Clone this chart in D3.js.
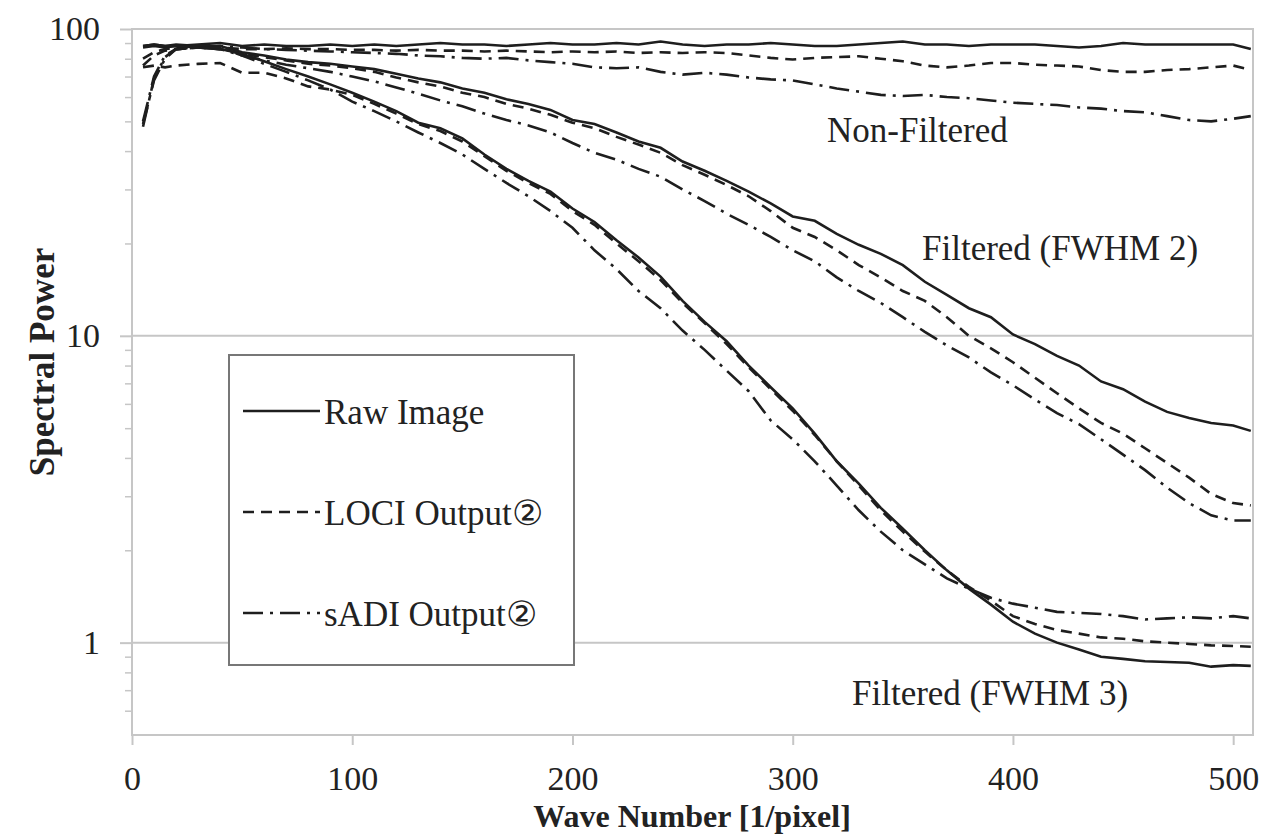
<!DOCTYPE html>
<html>
<head>
<meta charset="utf-8">
<script src="https://cdn.jsdelivr.net/npm/d3@7"></script>
<style>
  body { margin: 0; background: #fff; }
  text { font-family: "Liberation Serif", "Times New Roman", serif; fill: #222; }
</style>
</head>
<body>
<div id="chart"></div>
<script>
// wave numbers shared by every curve
const waveNumbers = [5, 10, 15, 20, 30, 40, 50, 60, 70, 80, 90, 100,
  110, 120, 130, 140, 150, 160, 170, 180, 190, 200,
  210, 220, 230, 240, 250, 260, 270, 280, 290, 300,
  310, 320, 330, 340, 350, 360, 370, 380, 390, 400,
  410, 420, 430, 440, 450, 460, 470, 480, 490, 500, 508];

// Non-Filtered
const rawNonFiltered = [87, 88, 87, 88, 89, 90, 88, 89, 88, 88, 89, 88,
  89, 88, 89, 90, 89, 89, 88, 89, 90, 89,
  89, 90, 89, 91, 89, 88, 89, 89, 90, 89,
  88, 88, 89, 90, 91, 89, 89, 88, 89, 89,
  89, 88, 87, 88, 90, 89, 89, 89, 89, 89, 86];
const lociNonFiltered = [76, 82, 85, 86, 87, 87, 86, 86, 86.5, 86, 86, 85.5,
  85.5, 85, 85.5, 85, 85, 84.5, 85, 84.5, 84, 84.5,
  84, 84.5, 83.5, 84, 83.5, 84, 83.5, 82, 80.5, 79.5,
  80.5, 81, 81.5, 80, 78.5, 76, 75, 76, 77.5, 77.5,
  76.5, 76, 75.5, 73.5, 72.5, 72.5, 73.5, 74, 75, 76, 73.5];
const sadiNonFiltered = [49, 68, 80, 86, 87, 88, 87, 86, 85.5, 85, 84.5, 84,
  83.5, 83, 82, 81.5, 80.5, 80, 80.5, 79, 78, 77,
  75, 74.5, 75, 72.5, 71, 72, 71, 69.5, 68.5, 68,
  66, 64, 62.5, 61, 60.5, 61, 60, 59.5, 58.5, 57.5,
  57, 56.5, 55.5, 55, 54, 53.5, 52, 50.5, 50, 51, 52];

// Filtered (FWHM 2)
const rawFwhm2 = [88, 89, 88, 89, 88, 88, 84, 82, 79.5, 78, 77, 75.5,
  74, 71.5, 69, 67, 64, 62, 59, 57, 54.5, 50.5,
  49, 46, 43, 41, 37, 34.5, 32, 29.5, 27, 24.5,
  23.7, 21.5, 19.8, 18.5, 17, 15, 13.6, 12.3, 11.5, 10.1,
  9.4, 8.6, 8.0, 7.1, 6.7, 6.1, 5.65, 5.4, 5.2, 5.1, 4.9];
const lociFwhm2 = [80, 84, 86, 87, 87, 86, 83, 81, 79, 77, 76, 74.5,
  72.5, 69.5, 67, 65, 62, 60, 57, 55, 52.5, 49.5,
  47.5, 44.5, 42, 39.5, 36, 33.5, 31, 28.5, 25.5, 22.5,
  21, 19, 17, 15.5, 14, 13, 11.5, 10.0, 9.1, 8.2,
  7.3, 6.5, 5.8, 5.2, 4.8, 4.3, 3.85, 3.45, 3.05, 2.85, 2.8];
const sadiFwhm2 = [50, 70, 82, 86, 87, 86, 82, 79, 76.5, 74.5, 72.5, 70,
  67.5, 64.5, 61.5, 58.5, 56, 53, 50.5, 48.5, 46, 42.5,
  39.5, 37.5, 35, 33, 30, 27.5, 25, 23, 21, 19,
  17.5, 15.5, 14, 12.8, 11.5, 10.3, 9.3, 8.5, 7.6, 6.9,
  6.2, 5.6, 5.15, 4.6, 4.1, 3.65, 3.2, 2.85, 2.6, 2.5, 2.5];

// Filtered (FWHM 3)
const rawFwhm3 = [88, 89, 88, 88, 87, 86, 83, 78.5, 74, 70, 66, 62,
  58, 54, 49.5, 47.5, 44, 39, 35, 32, 29.5, 26,
  23.5, 20.5, 18, 15.6, 13, 11.1, 9.6, 8.0, 6.8, 5.8,
  4.8, 3.9, 3.3, 2.75, 2.35, 2.0, 1.72, 1.5, 1.33, 1.17,
  1.07, 1.0, 0.95, 0.9, 0.885, 0.87, 0.865, 0.86, 0.835, 0.845, 0.84];
const lociFwhm3 = [75, 76, 75, 76, 77, 77.5, 72, 72, 69, 65, 63.5, 61,
  57, 53, 49, 46.5, 43, 38.5, 34.5, 31.5, 29, 25.5,
  23, 20, 17.5, 15.2, 12.8, 11, 9.4, 7.9, 6.7, 5.7,
  4.75, 3.9, 3.25, 2.7, 2.3, 1.98, 1.72, 1.52, 1.37, 1.22,
  1.15, 1.1, 1.07, 1.04, 1.03, 1.01, 1.0, 0.99, 0.98, 0.975, 0.97];
const sadiFwhm3 = [48, 69, 81, 86, 87, 87, 82, 77, 72.5, 68, 63.5, 58,
  54, 50, 46, 42.5, 39, 35, 31.5, 28.5, 25.5, 22.5,
  19, 16.5, 14, 12.3, 10.4, 9.0, 7.7, 6.6, 5.3, 4.6,
  3.9, 3.25, 2.7, 2.3, 2.0, 1.8, 1.62, 1.5, 1.4, 1.34,
  1.3, 1.26, 1.25, 1.24, 1.22, 1.19, 1.2, 1.21, 1.2, 1.22, 1.2];

const xTicks = [0, 100, 200, 300, 400, 500];
const yTicks = [1, 10, 100];
const legendLabels = ["Raw Image", "LOCI Output②", "sADI Output②"];
const groupLabels = ["Non-Filtered", "Filtered (FWHM 2)", "Filtered (FWHM 3)"];

const dashes = { raw: null, loci: "11,7", sadi: "20,7,3,7" };

const series = [
  { kind: "raw", values: rawNonFiltered },
  { kind: "loci", values: lociNonFiltered },
  { kind: "sadi", values: sadiNonFiltered },
  { kind: "raw", values: rawFwhm2 },
  { kind: "loci", values: lociFwhm2 },
  { kind: "sadi", values: sadiFwhm2 },
  { kind: "raw", values: rawFwhm3 },
  { kind: "loci", values: lociFwhm3 },
  { kind: "sadi", values: sadiFwhm3 }
];

const width = 1271, height = 837;
const plotLeft = 132, plotRight = 1253, plotTop = 29, plotBottom = 735;
const gridColor = "#c6c6c6";

const svg = d3.select("#chart").append("svg")
  .attr("width", width).attr("height", height);

const x = d3.scaleLinear().domain([0, 509]).range([plotLeft, plotRight]);
const y = d3.scaleLog().domain([0.5, 100]).range([plotBottom, plotTop]);

// gridlines
svg.append("g").selectAll("line")
  .data(yTicks)
  .enter().append("line")
  .attr("x1", plotLeft).attr("x2", plotRight)
  .attr("y1", d => y(d)).attr("y2", d => y(d))
  .attr("stroke", gridColor).attr("stroke-width", 2);

// plot frame
svg.append("rect")
  .attr("x", plotLeft).attr("y", plotTop)
  .attr("width", plotRight - plotLeft).attr("height", plotBottom - plotTop)
  .attr("fill", "none").attr("stroke", gridColor).attr("stroke-width", 2);

// x axis
const xAxis = svg.append("g")
  .attr("transform", `translate(0, ${plotBottom})`)
  .call(d3.axisBottom(x).tickValues(xTicks).tickSize(10).tickPadding(21).tickFormat(d3.format("d")));
xAxis.select(".domain").remove();
xAxis.selectAll("line").attr("stroke", gridColor).attr("stroke-width", 2);
xAxis.selectAll("text").style("font-size", "34px").style("font-family", "Liberation Serif").attr("fill", "#222");

// y axis, major ticks with labels
const yAxis = svg.append("g")
  .attr("transform", `translate(${plotLeft}, 0)`)
  .call(d3.axisLeft(y).tickValues(yTicks).tickSize(12).tickPadding(20).tickFormat(d3.format("d")));
yAxis.select(".domain").remove();
yAxis.selectAll("line").attr("stroke", gridColor).attr("stroke-width", 2);
yAxis.selectAll("text").style("font-size", "34px").style("font-family", "Liberation Serif").attr("fill", "#222");

// y axis, minor ticks
const minorTicks = [0.6, 0.7, 0.8, 0.9, 2, 3, 4, 5, 6, 7, 8, 9, 20, 30, 40, 50, 60, 70, 80, 90];
const yMinor = svg.append("g")
  .attr("transform", `translate(${plotLeft}, 0)`)
  .call(d3.axisLeft(y).tickValues(minorTicks).tickSize(7).tickFormat(""));
yMinor.select(".domain").remove();
yMinor.selectAll("line").attr("stroke", gridColor).attr("stroke-width", 1.5);

// curves
const line = d3.line()
  .x((d, i) => x(waveNumbers[i]))
  .y(d => y(d));

svg.append("g").selectAll("path")
  .data(series)
  .enter().append("path")
  .attr("d", d => line(d.values))
  .attr("fill", "none")
  .attr("stroke", "#1e1e1e")
  .attr("stroke-width", 2.6)
  .attr("stroke-dasharray", d => dashes[d.kind]);

// group labels
const groupPos = [[827, 142], [922, 260], [852, 705]];
svg.append("g").selectAll("text")
  .data(groupLabels)
  .enter().append("text")
  .attr("x", (d, i) => groupPos[i][0])
  .attr("y", (d, i) => groupPos[i][1])
  .style("font-size", "35px")
  .text(d => d);

// legend
const legend = svg.append("g");
legend.append("rect")
  .attr("x", 229).attr("y", 355)
  .attr("width", 345).attr("height", 310)
  .attr("fill", "#fff").attr("stroke", "#777").attr("stroke-width", 2);

const kinds = ["raw", "loci", "sadi"];
const rows = legend.selectAll("g.row")
  .data(legendLabels)
  .enter().append("g")
  .attr("class", "row")
  .attr("transform", (d, i) => `translate(0, ${411 + i * 101})`);
rows.append("line")
  .attr("x1", 243).attr("x2", 320)
  .attr("stroke", "#1e1e1e").attr("stroke-width", 2.6)
  .attr("stroke-dasharray", (d, i) => dashes[kinds[i]]);
rows.append("text")
  .attr("x", 324).attr("y", 13)
  .style("font-size", "35px")
  .text(d => d);

// axis titles
svg.append("text")
  .attr("x", 692).attr("y", 827)
  .attr("text-anchor", "middle")
  .style("font-size", "32px").style("font-weight", "bold")
  .text("Wave Number [1/pixel]");

svg.append("text")
  .attr("transform", "translate(54, 362) rotate(-90)")
  .attr("text-anchor", "middle")
  .style("font-size", "35px").style("font-weight", "bold")
  .text("Spectral Power");
</script>
</body>
</html>
